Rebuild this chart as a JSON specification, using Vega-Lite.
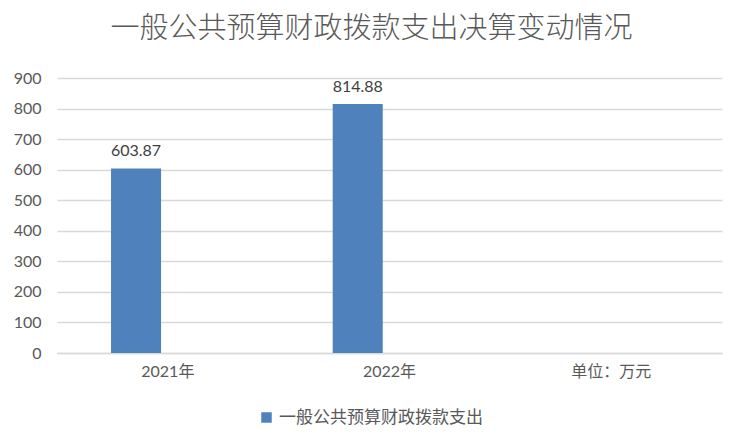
{
  "$schema": "https://vega.github.io/schema/vega-lite/v6.json",
  "width": 665,
  "height": 275,
  "autosize": {"type": "none"},
  "padding": {"left": 57, "top": 78, "right": 20, "bottom": 92},
  "background": "white",
  "title": {
    "text": "一般公共预算财政拨款支出决算变动情况",
    "anchor": "middle",
    "frame": "group",
    "dx": -18,
    "offset": 26,
    "fontSize": 29,
    "font": "Noto Sans CJK SC",
    "fontWeight": 300,
    "color": "#595959"
  },
  "data": {
    "values": [
      {"year": "2021年", "series": "一般公共预算财政拨款支出", "value": 603.87},
      {"year": "2022年", "series": "一般公共预算财政拨款支出", "value": 814.88}
    ]
  },
  "config": {
    "view": {"stroke": null},
    "font": "Lato, Noto Sans CJK SC"
  },
  "encoding": {
    "x": {
      "field": "year",
      "type": "nominal",
      "scale": {"domain": ["2021年", "2022年", "单位：万元"], "paddingInner": 0, "paddingOuter": 0},
      "axis": {
        "title": null,
        "labelAngle": 0,
        "labelFontSize": 16,
        "labelColor": "#595959",
        "labelFont": "Lato, Noto Sans CJK SC",
        "ticks": false,
        "labelPadding": 10,
        "domainColor": "#d9d9d9",
        "domainWidth": 1.5,
        "grid": false
      }
    },
    "xOffset": {
      "field": "series",
      "type": "nominal",
      "scale": {"domain": ["一般公共预算财政拨款支出", "其他"], "paddingInner": 0.2126, "paddingOuter": 0.85}
    },
    "y": {
      "field": "value",
      "type": "quantitative",
      "scale": {"domain": [0, 900], "nice": false},
      "axis": {
        "title": null,
        "values": [0, 100, 200, 300, 400, 500, 600, 700, 800, 900],
        "tickCount": 10,
        "labelOverlap": false,
        "labelFontSize": 16,
        "labelColor": "#595959",
        "labelFont": "Lato",
        "ticks": false,
        "tickSize": 0,
        "labelPadding": 16,
        "domain": false,
        "gridColor": "#d9d9d9",
        "gridWidth": 1.3
      }
    }
  },
  "layer": [
    {
      "mark": {"type": "bar", "color": "#4f81bd"},
      "encoding": {
        "color": {
          "field": "series",
          "type": "nominal",
          "scale": {"domain": ["一般公共预算财政拨款支出"], "range": ["#4f81bd"]},
          "legend": {
            "title": null,
            "orient": "none",
            "legendX": 201,
            "legendY": 331,
            "symbolType": "square",
            "symbolSize": 110,
            "labelFontSize": 17,
            "labelLimit": 400,
            "labelColor": "#595959",
            "labelFont": "Noto Sans CJK SC",
            "labelOffset": 4
          }
        }
      }
    },
    {
      "mark": {"type": "text", "baseline": "alphabetic", "dy": -12, "fontSize": 16, "color": "#404040", "font": "Lato"},
      "encoding": {
        "text": {"field": "value", "type": "quantitative", "format": ".2f"}
      }
    }
  ]
}
